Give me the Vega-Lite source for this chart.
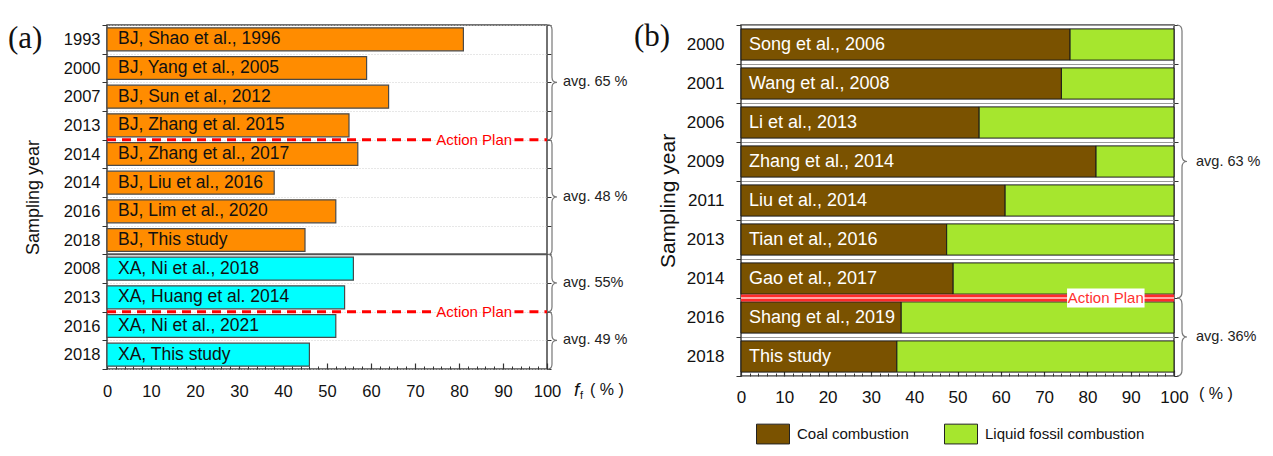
{
  "$schema": "https://vega.github.io/schema/vega-lite/v6.json",
  "background": "white",
  "padding": {"left": 7, "top": 15, "right": 5, "bottom": 5},
  "spacing": 4,
  "resolve": {"scale": {"color": "independent"}},
  "config": {
    "font": "Liberation Sans",
    "view": {"stroke": "#444", "strokeWidth": 1.5},
    "axis": {
      "labelFont": "Liberation Sans",
      "labelColor": "#111",
      "titleFont": "Liberation Sans",
      "titleFontWeight": "normal",
      "titleColor": "#111",
      "tickColor": "#333",
      "domainColor": "#333"
    },
    "text": {"font": "Liberation Sans"}
  },
  "datasets": {
    "fa": [
      {"key": "01|1993", "city": "BJ", "study": "BJ, Shao et al., 1996", "ff": 81},
      {"key": "02|2000", "city": "BJ", "study": "BJ, Yang et al., 2005", "ff": 59},
      {"key": "03|2007", "city": "BJ", "study": "BJ, Sun et al., 2012", "ff": 64},
      {"key": "04|2013", "city": "BJ", "study": "BJ, Zhang et al. 2015", "ff": 55},
      {"key": "05|2014", "city": "BJ", "study": "BJ, Zhang et al., 2017", "ff": 57},
      {"key": "06|2014", "city": "BJ", "study": "BJ, Liu et al., 2016", "ff": 38},
      {"key": "07|2016", "city": "BJ", "study": "BJ, Lim et al., 2020", "ff": 52},
      {"key": "08|2018", "city": "BJ", "study": "BJ, This study", "ff": 45},
      {"key": "09|2008", "city": "XA", "study": "XA, Ni et al., 2018", "ff": 56},
      {"key": "10|2013", "city": "XA", "study": "XA, Huang et al. 2014", "ff": 54},
      {"key": "11|2016", "city": "XA", "study": "XA, Ni et al., 2021", "ff": 52},
      {"key": "12|2018", "city": "XA", "study": "XA, This study", "ff": 46}
    ],
    "fb": [
      {"key": "01|2000", "study": "Song et al., 2006", "Coal combustion": 76, "Liquid fossil combustion": 24},
      {"key": "02|2001", "study": "Wang et al., 2008", "Coal combustion": 74, "Liquid fossil combustion": 26},
      {"key": "03|2006", "study": "Li et al., 2013", "Coal combustion": 55, "Liquid fossil combustion": 45},
      {"key": "04|2009", "study": "Zhang et al., 2014", "Coal combustion": 82, "Liquid fossil combustion": 18},
      {"key": "05|2011", "study": "Liu et al., 2014", "Coal combustion": 61, "Liquid fossil combustion": 39},
      {"key": "06|2013", "study": "Tian et al., 2016", "Coal combustion": 47.5, "Liquid fossil combustion": 52.5},
      {"key": "07|2014", "study": "Gao et al., 2017", "Coal combustion": 49, "Liquid fossil combustion": 51},
      {"key": "08|2016", "study": "Shang et al., 2019", "Coal combustion": 37, "Liquid fossil combustion": 63},
      {"key": "09|2018", "study": "This study", "Coal combustion": 36, "Liquid fossil combustion": 64}
    ]
  },
  "hconcat": [
    {
      "width": 440,
      "height": 344,
      "resolve": {"axis": {"y": "independent", "x": "independent"}},
      "layer": [
        {
          "data": {"name": "fa"},
          "mark": {"type": "bar", "height": {"band": 0.8}, "stroke": "#4a4a4a", "strokeWidth": 1.2},
          "encoding": {
            "y": {
              "field": "key", "type": "nominal",
              "scale": {"paddingInner": 0, "paddingOuter": 0},
              "axis": {
                "title": "Sampling year", "titleFontSize": 18, "titlePadding": 21,
                "labelExpr": "split(datum.label, '|')[1]", "labelFontSize": 16.5, "labelPadding": 2,
                "tickBand": "extent", "tickSize": 5, "domain": false,
                "grid": true, "gridColor": "#cfcfcf", "gridDash": [1, 2]
              }
            },
            "x": {
              "field": "ff", "type": "quantitative",
              "scale": {"domain": [0, 100], "nice": false},
              "axis": {
                "values": [0, 10, 20, 30, 40, 50, 60, 70, 80, 90, 100],
                "tickSize": -6, "tickWidth": 1.2, "labelPadding": 20, "labelFontSize": 16.5,
                "labelFlush": false, "labelOverlap": false,
                "title": null, "grid": false, "domain": false
              }
            },
            "color": {
              "field": "city", "type": "nominal",
              "scale": {"domain": ["BJ", "XA"], "range": ["#FF8C00", "#00FFFF"]},
              "legend": null
            }
          }
        },
        {
          "data": {"name": "fa"},
          "mark": {"type": "text", "align": "left", "dx": 11, "fontSize": 17.5, "color": "#111"},
          "encoding": {
            "y": {
              "field": "key", "type": "nominal",
              "axis": {"orient": "right", "labels": false, "title": null, "domain": false, "grid": false, "tickBand": "extent", "tickSize": 4}
            },
            "x": {
              "datum": 0, "type": "quantitative",
              "axis": {
                "orient": "bottom",
                "values": [2,4,6,8,12,14,16,18,22,24,26,28,32,34,36,38,42,44,46,48,52,54,56,58,62,64,66,68,72,74,76,78,82,84,86,88,92,94,96,98],
                "tickSize": -3, "labels": false, "title": null, "grid": false, "domain": false
              }
            },
            "text": {"field": "study"}
          }
        },
        {
          "data": {"values": [{}]},
          "mark": {"type": "rule", "color": "#555", "strokeWidth": 2},
          "encoding": {
            "y": {"datum": "09|2008", "type": "nominal", "bandPosition": 0, "axis": null},
            "x": {"datum": 0, "type": "quantitative", "axis": null},
            "x2": {"datum": 100}
          }
        },
        {
          "data": {"values": [
            {"key": "05|2014", "from": 0, "to": 74.3},
            {"key": "05|2014", "from": 92.6, "to": 100},
            {"key": "11|2016", "from": 0, "to": 74.3},
            {"key": "11|2016", "from": 92.6, "to": 100}
          ]},
          "mark": {"type": "rule", "color": "#FF0000", "strokeWidth": 3, "strokeDash": [9, 6]},
          "encoding": {
            "y": {"field": "key", "type": "nominal", "bandPosition": 0, "axis": null},
            "x": {"field": "from", "type": "quantitative", "axis": null},
            "x2": {"field": "to"}
          }
        },
        {
          "data": {"values": [{"key": "05|2014"}, {"key": "11|2016"}]},
          "mark": {"type": "text", "text": "Action Plan", "color": "#FF0000", "fontSize": 15, "align": "center", "baseline": "middle"},
          "encoding": {
            "y": {"field": "key", "type": "nominal", "bandPosition": 0, "axis": null},
            "x": {"datum": 83.45, "type": "quantitative", "axis": null}
          }
        },
        {
          "data": {"values": [{"key": "03|2007"}, {"key": "07|2016"}]},
          "mark": {
            "type": "point", "filled": false, "stroke": "#777", "strokeWidth": 1.2, "opacity": 1, "size": 13225,
            "shape": "M0.017,-1Q0.087,-1 0.087,-0.913L0.087,-0.087Q0.087,0 0.174,0Q0.087,0 0.087,0.087L0.087,0.913Q0.087,1 0.017,1"
          },
          "encoding": {
            "y": {"field": "key", "type": "nominal", "bandPosition": 0, "axis": null},
            "x": {"datum": 100, "type": "quantitative", "axis": null}
          }
        },
        {
          "data": {"values": [{"key": "10|2013"}, {"key": "12|2018"}]},
          "mark": {
            "type": "point", "filled": false, "stroke": "#777", "strokeWidth": 1.2, "opacity": 1, "size": 3295,
            "shape": "M0.035,-1Q0.174,-1 0.174,-0.826L0.174,-0.174Q0.174,0 0.348,0Q0.174,0 0.174,0.174L0.174,0.826Q0.174,1 0.035,1"
          },
          "encoding": {
            "y": {"field": "key", "type": "nominal", "bandPosition": 0, "axis": null},
            "x": {"datum": 100, "type": "quantitative", "axis": null}
          }
        },
        {
          "data": {"values": [
            {"key": "03|2007", "avg": "avg. 65 %"},
            {"key": "07|2016", "avg": "avg. 48 %"},
            {"key": "10|2013", "avg": "avg. 55%"},
            {"key": "12|2018", "avg": "avg. 49 %"}
          ]},
          "mark": {"type": "text", "align": "left", "baseline": "middle", "dx": 16, "fontSize": 14.5, "color": "#222"},
          "encoding": {
            "y": {"field": "key", "type": "nominal", "bandPosition": 0, "axis": null},
            "x": {"datum": 100, "type": "quantitative", "axis": null},
            "text": {"field": "avg"}
          }
        },
        {
          "data": {"values": [{}]},
          "mark": {"type": "text", "text": "(a)", "font": "Liberation Serif", "fontSize": 31, "align": "left", "baseline": "middle", "dx": -99, "color": "#111"},
          "encoding": {
            "y": {"datum": "01|1993", "type": "nominal", "bandPosition": 0.5, "axis": null},
            "x": {"datum": 0, "type": "quantitative", "axis": null}
          }
        },
        {
          "data": {"values": [{}]},
          "mark": {"type": "text", "text": "f", "fontStyle": "italic", "fontSize": 19, "align": "left", "baseline": "middle", "dx": 27, "dy": 21, "color": "#111"},
          "encoding": {
            "y": {"datum": "12|2018", "type": "nominal", "bandPosition": 1, "axis": null},
            "x": {"datum": 100, "type": "quantitative", "axis": null}
          }
        },
        {
          "data": {"values": [{}]},
          "mark": {"type": "text", "text": "f", "fontSize": 11, "align": "left", "baseline": "middle", "dx": 33, "dy": 27, "color": "#111"},
          "encoding": {
            "y": {"datum": "12|2018", "type": "nominal", "bandPosition": 1, "axis": null},
            "x": {"datum": 100, "type": "quantitative", "axis": null}
          }
        },
        {
          "data": {"values": [{}]},
          "mark": {"type": "text", "text": "( % )", "fontSize": 16, "align": "left", "baseline": "middle", "dx": 43, "dy": 21, "color": "#111"},
          "encoding": {
            "y": {"datum": "12|2018", "type": "nominal", "bandPosition": 1, "axis": null},
            "x": {"datum": 100, "type": "quantitative", "axis": null}
          }
        }
      ]
    },
    {
      "width": 433,
      "height": 351,
      "resolve": {"axis": {"y": "independent", "x": "independent"}},
      "layer": [
        {
          "data": {"name": "fb"},
          "transform": [{"fold": ["Coal combustion", "Liquid fossil combustion"], "as": ["src", "v"]}],
          "mark": {"type": "bar", "height": {"band": 0.8}, "stroke": "#1a1a1a", "strokeWidth": 1},
          "encoding": {
            "y": {
              "field": "key", "type": "nominal",
              "scale": {"paddingInner": 0, "paddingOuter": 0},
              "axis": {
                "title": "Sampling year", "titleFontSize": 21, "titlePadding": 8,
                "labelExpr": "split(datum.label, '|')[1]", "labelFontSize": 17, "labelPadding": 12,
                "tickBand": "extent", "tickSize": 5, "domain": false,
                "grid": true, "gridColor": "#999", "gridWidth": 1.2
              }
            },
            "x": {
              "field": "v", "type": "quantitative", "stack": "zero",
              "scale": {"domain": [0, 100], "nice": false},
              "axis": {
                "values": [0, 10, 20, 30, 40, 50, 60, 70, 80, 90, 100],
                "tickSize": -6, "tickWidth": 1.2, "labelPadding": 19, "labelFontSize": 17,
                "labelFlush": false, "labelOverlap": false,
                "title": null, "grid": false, "domain": false
              }
            },
            "color": {
              "field": "src", "type": "nominal",
              "scale": {"domain": ["Coal combustion", "Liquid fossil combustion"], "range": ["#7A5200", "#A6E62E"]},
              "legend": {
                "title": null, "orient": "bottom", "direction": "horizontal",
                "symbolType": "M-1,-0.6H1V0.6H-1Z", "symbolSize": 1089,
                "symbolStrokeColor": "#222", "symbolStrokeWidth": 1,
                "labelFontSize": 15, "labelFont": "Liberation Sans", "labelColor": "#111",
                "labelOffset": 7, "columnPadding": 33, "offset": -3, "padding": 15
              }
            },
            "order": {"field": "src"}
          }
        },
        {
          "data": {"name": "fb"},
          "mark": {"type": "text", "align": "left", "dx": 8, "fontSize": 18, "color": "#FFFFFF"},
          "encoding": {
            "y": {
              "field": "key", "type": "nominal",
              "axis": {"orient": "right", "labels": false, "title": null, "domain": false, "grid": false, "tickBand": "extent", "tickSize": 4}
            },
            "x": {
              "datum": 0, "type": "quantitative",
              "axis": {
                "orient": "bottom",
                "values": [2,4,6,8,12,14,16,18,22,24,26,28,32,34,36,38,42,44,46,48,52,54,56,58,62,64,66,68,72,74,76,78,82,84,86,88,92,94,96,98],
                "tickSize": -3, "labels": false, "title": null, "grid": false, "domain": false
              }
            },
            "text": {"field": "study"}
          }
        },
        {
          "data": {"values": [{}]},
          "mark": {"type": "rule", "color": "#FF2A2A", "strokeWidth": 7},
          "encoding": {
            "y": {"datum": "08|2016", "type": "nominal", "bandPosition": 0, "axis": null},
            "x": {"datum": 0, "type": "quantitative", "axis": null},
            "x2": {"datum": 100}
          }
        },
        {
          "data": {"values": [{}]},
          "mark": {"type": "rule", "color": "#FFD0D0", "strokeWidth": 1.5},
          "encoding": {
            "y": {"datum": "08|2016", "type": "nominal", "bandPosition": 0, "axis": null},
            "x": {"datum": 0, "type": "quantitative", "axis": null},
            "x2": {"datum": 100}
          }
        },
        {
          "data": {"values": [{}]},
          "mark": {"type": "rule", "color": "#FFFFFF", "strokeWidth": 19},
          "encoding": {
            "y": {"datum": "08|2016", "type": "nominal", "bandPosition": 0, "axis": null},
            "x": {"datum": 75.3, "type": "quantitative", "axis": null},
            "x2": {"datum": 93.2}
          }
        },
        {
          "data": {"values": [{}]},
          "mark": {"type": "text", "text": "Action Plan", "color": "#FF3030", "fontSize": 15, "align": "center", "baseline": "middle"},
          "encoding": {
            "y": {"datum": "08|2016", "type": "nominal", "bandPosition": 0, "axis": null},
            "x": {"datum": 84.25, "type": "quantitative", "axis": null}
          }
        },
        {
          "data": {"values": [{}]},
          "mark": {
            "type": "point", "filled": false, "stroke": "#777", "strokeWidth": 1.2, "opacity": 1, "size": 74529,
            "shape": "M0.022,-1Q0.0586,-1 0.0586,-0.956L0.0586,-0.044Q0.0586,0 0.0952,0Q0.0586,0 0.0586,0.044L0.0586,0.956Q0.0586,1 0.022,1"
          },
          "encoding": {
            "y": {"datum": "04|2009", "type": "nominal", "bandPosition": 0.5, "axis": null},
            "x": {"datum": 100, "type": "quantitative", "axis": null}
          }
        },
        {
          "data": {"values": [{}]},
          "mark": {
            "type": "point", "filled": false, "stroke": "#777", "strokeWidth": 1.2, "opacity": 1, "size": 6084,
            "shape": "M0.077,-1Q0.205,-1 0.205,-0.846L0.205,-0.154Q0.205,0 0.333,0Q0.205,0 0.205,0.154L0.205,0.846Q0.205,1 0.077,1"
          },
          "encoding": {
            "y": {"datum": "09|2018", "type": "nominal", "bandPosition": 0, "axis": null},
            "x": {"datum": 100, "type": "quantitative", "axis": null}
          }
        },
        {
          "data": {"values": [{}]},
          "mark": {"type": "text", "text": "avg. 63 %", "align": "left", "baseline": "middle", "dx": 22, "fontSize": 14.5, "color": "#222"},
          "encoding": {
            "y": {"datum": "04|2009", "type": "nominal", "bandPosition": 0.5, "axis": null},
            "x": {"datum": 100, "type": "quantitative", "axis": null}
          }
        },
        {
          "data": {"values": [{}]},
          "mark": {"type": "text", "text": "avg. 36%", "align": "left", "baseline": "middle", "dx": 22, "fontSize": 14.5, "color": "#222"},
          "encoding": {
            "y": {"datum": "09|2018", "type": "nominal", "bandPosition": 0, "axis": null},
            "x": {"datum": 100, "type": "quantitative", "axis": null}
          }
        },
        {
          "data": {"values": [{}]},
          "mark": {"type": "text", "text": "(b)", "font": "Liberation Serif", "fontSize": 31, "align": "left", "baseline": "middle", "dx": -107, "color": "#111"},
          "encoding": {
            "y": {"datum": "01|2000", "type": "nominal", "bandPosition": 0.3, "axis": null},
            "x": {"datum": 0, "type": "quantitative", "axis": null}
          }
        },
        {
          "data": {"values": [{}]},
          "mark": {"type": "text", "text": "( % )", "fontSize": 16, "align": "left", "baseline": "middle", "dx": 25, "dy": 18, "color": "#111"},
          "encoding": {
            "y": {"datum": "09|2018", "type": "nominal", "bandPosition": 1, "axis": null},
            "x": {"datum": 100, "type": "quantitative", "axis": null}
          }
        }
      ]
    }
  ]
}
